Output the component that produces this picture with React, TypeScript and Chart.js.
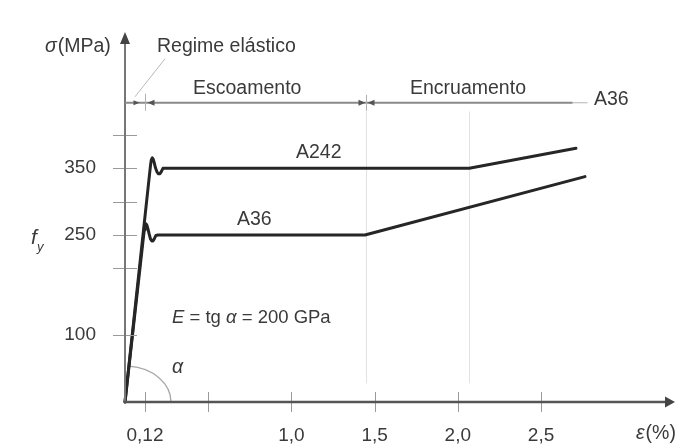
import React, { useEffect, useRef } from 'react';
import { Chart, registerables } from 'chart.js';

Chart.register(...registerables);

// ---- data (strain in %, stress in MPa) ----
const strainA242 = [0, 0.147, 0.153, 0.158, 0.164, 0.170, 0.176, 0.183, 0.192, 0.201, 0.210, 0.219, 0.228, 0.240, 2.069, 2.710];
const stressA242 = [0, 340, 353.6, 362.5, 365.5, 363.3, 358.1, 350.6, 344.6, 341.6, 341.6, 345.3, 349.8, 350, 350, 380];
const strainA36 = [0, 0.111, 0.116, 0.120, 0.126, 0.132, 0.138, 0.145, 0.153, 0.161, 0.169, 0.177, 0.186, 0.198, 1.442, 2.764];
const stressA36 = [0, 247.2, 257.7, 264.4, 266.7, 264.4, 259.2, 251.7, 244.2, 241.2, 241.2, 244.9, 249.4, 250, 250, 337.5];

const xTickValues = [0.12, 0.5, 1.0, 1.5, 2.0, 2.5];
const xTickLabels = ['0,12', '', '1,0', '1,5', '2,0', '2,5'];
const yTickValues = [100, 200, 250, 300, 350, 400];
const yTickLabels = ['100', '', '250', '', '350', ''];

// regime indicator: elastic | yielding | hardening
const regimeBounds = [0, 0.12, 1.45, 2.69];
const regimeTail = 2.78;
const regimeLevel = 448;
const guideStrains = [1.45, 2.07];
const guideTop = 435;
const guideBottom = 28;

const X_MIN = 0;
const X_MAX = 3.245;
const Y_MIN = 0;
const Y_MAX = 536;

const FONT = "'Liberation Sans', Arial, Helvetica, sans-serif";
const TEXT = '#3a3a3a';

type Part = { t: string; i?: boolean; s?: number; dy?: number; gap?: number };

function runs(ctx: CanvasRenderingContext2D, x: number, y: number, parts: Part[]) {
  ctx.textBaseline = 'middle';
  ctx.textAlign = 'left';
  ctx.fillStyle = TEXT;
  let cx = x;
  for (const p of parts) {
    ctx.font = `${p.i ? 'italic ' : ''}${p.s || 19.5}px ${FONT}`;
    ctx.fillText(p.t, cx, y + (p.dy || 0));
    cx += ctx.measureText(p.t).width + (p.gap || 0);
  }
}

function arrowHead(ctx: CanvasRenderingContext2D, tipX: number, tipY: number, dir: number, len: number, half: number, color: string) {
  ctx.fillStyle = color;
  ctx.beginPath();
  ctx.moveTo(tipX, tipY);
  ctx.lineTo(tipX - dir * len, tipY - half);
  ctx.lineTo(tipX - dir * len, tipY + half);
  ctx.closePath();
  ctx.fill();
}

const diagramPlugin = {
  id: 'diagram',
  beforeDatasetsDraw(chart: any) {
    const ctx: CanvasRenderingContext2D = chart.ctx;
    const xs = chart.scales.x;
    const ys = chart.scales.y;
    const X = (v: number) => xs.getPixelForValue(v);
    const Y = (v: number) => ys.getPixelForValue(v);
    ctx.save();
    // faint guide lines
    ctx.strokeStyle = '#e2e2e2';
    ctx.lineWidth = 1;
    for (const g of guideStrains) {
      ctx.beginPath();
      ctx.moveTo(Math.round(X(g)) + 0.5, Y(guideTop));
      ctx.lineTo(Math.round(X(g)) + 0.5, Y(guideBottom));
      ctx.stroke();
    }
    // alpha arc
    const ox = X(0);
    const oy = Y(0);
    ctx.strokeStyle = '#a8a8a8';
    ctx.lineWidth = 1.3;
    ctx.beginPath();
    ctx.ellipse(ox, oy, 46, 36, 0, (-85 * Math.PI) / 180, 0);
    ctx.stroke();
    ctx.restore();
  },
  afterDraw(chart: any) {
    const ctx: CanvasRenderingContext2D = chart.ctx;
    const xs = chart.scales.x;
    const ys = chart.scales.y;
    const area = chart.chartArea;
    const X = (v: number) => xs.getPixelForValue(v);
    const Y = (v: number) => ys.getPixelForValue(v);
    const ox = X(0);
    const oy = Y(0);
    ctx.save();

    // tick marks crossing the axes
    ctx.strokeStyle = '#9a9a9a';
    ctx.lineWidth = 1;
    for (const v of yTickValues) {
      const py = Math.round(Y(v)) + 0.5;
      ctx.beginPath();
      ctx.moveTo(ox - 12, py);
      ctx.lineTo(ox + 12, py);
      ctx.stroke();
    }
    for (const v of xTickValues) {
      const px = Math.round(X(v)) + 0.5;
      ctx.beginPath();
      ctx.moveTo(px, oy - 10);
      ctx.lineTo(px, oy + 10);
      ctx.stroke();
    }

    // y axis
    ctx.strokeStyle = '#777';
    ctx.lineWidth = 2;
    ctx.beginPath();
    ctx.moveTo(ox, oy + 1);
    ctx.lineTo(ox, area.top);
    ctx.stroke();
    ctx.fillStyle = '#444';
    ctx.beginPath();
    ctx.moveTo(ox, area.top - 12);
    ctx.lineTo(ox - 5, area.top);
    ctx.lineTo(ox + 5, area.top);
    ctx.closePath();
    ctx.fill();

    // x axis
    ctx.strokeStyle = '#555';
    ctx.lineWidth = 2.5;
    ctx.beginPath();
    ctx.moveTo(ox - 1, oy);
    ctx.lineTo(area.right, oy);
    ctx.stroke();
    arrowHead(ctx, area.right + 10, oy, 1, 10, 5.5, '#444');

    // regime indicator line
    const ry = Y(regimeLevel);
    ctx.strokeStyle = '#8a8a8a';
    ctx.lineWidth = 2;
    ctx.beginPath();
    ctx.moveTo(X(regimeBounds[0]), ry);
    ctx.lineTo(X(regimeBounds[3]), ry);
    ctx.stroke();
    ctx.strokeStyle = '#b5b5b5';
    ctx.lineWidth = 1;
    ctx.beginPath();
    ctx.moveTo(X(regimeBounds[3]), ry);
    ctx.lineTo(X(regimeTail), ry);
    ctx.stroke();
    // boundary ticks
    ctx.strokeStyle = '#b0b0b0';
    ctx.lineWidth = 1;
    const b1 = Math.round(X(regimeBounds[1])) + 0.5;
    const b2 = Math.round(X(regimeBounds[2])) + 0.5;
    ctx.beginPath();
    ctx.moveTo(b1, ry - 9);
    ctx.lineTo(b1, ry + 8);
    ctx.moveTo(b2, ry - 8);
    ctx.lineTo(b2, ry + 8);
    ctx.stroke();
    // arrowheads
    arrowHead(ctx, b1 - 6, ry, 1, 6, 2.5, '#555');
    arrowHead(ctx, b1 + 2, ry, -1, 7, 3, '#555');
    arrowHead(ctx, b2 - 1, ry, 1, 7, 3, '#555');
    arrowHead(ctx, b2 + 1, ry, -1, 7, 3, '#555');
    // leader line for "Regime elástico"
    ctx.strokeStyle = '#b8b8b8';
    ctx.lineWidth = 1;
    ctx.beginPath();
    ctx.moveTo(ox + 40, ry - 44);
    ctx.lineTo(ox + 10, ry - 6);
    ctx.stroke();

    // texts
    runs(ctx, 45, 47, [{ t: 'σ', i: true, gap: 1 }, { t: '(MPa)' }]);
    runs(ctx, 157, 47, [{ t: 'Regime elástico' }]);
    runs(ctx, 193, 89, [{ t: 'Escoamento' }]);
    runs(ctx, 410, 89, [{ t: 'Encruamento' }]);
    runs(ctx, 594, 100, [{ t: 'A36' }]);
    runs(ctx, 296, 153, [{ t: 'A242' }]);
    runs(ctx, 237, 220, [{ t: 'A36' }]);
    runs(ctx, 172, 318, [
      { t: 'E', i: true, s: 18.5 },
      { t: ' = tg ', s: 18.5 },
      { t: 'α', i: true, s: 18.5 },
      { t: ' = 200 GPa', s: 18.5 },
    ]);
    runs(ctx, 172, 368, [{ t: 'α', i: true }]);
    runs(ctx, 31, 238, [{ t: 'f', i: true, s: 21 }]);
    runs(ctx, 37, 247, [{ t: 'y', i: true, s: 13 }]);
    runs(ctx, 636, 434, [{ t: 'ε', i: true, gap: 1 }, { t: '(%)' }]);

    ctx.restore();
  },
};

export default function App() {
  const ref = useRef<HTMLCanvasElement | null>(null);

  useEffect(() => {
    if (!ref.current) return;
    const toPts = (xs: number[], ys: number[]) => xs.map((x, i) => ({ x, y: ys[i] }));
    const chart = new Chart(ref.current, {
      type: 'line',
      data: {
        datasets: [
          {
            label: 'A242',
            data: toPts(strainA242, stressA242),
            borderColor: '#262626',
            borderWidth: 3,
            pointRadius: 0,
            tension: 0,
            fill: false,
            borderJoinStyle: 'round',
            borderCapStyle: 'round',
            clip: false,
          } as any,
          {
            label: 'A36',
            data: toPts(strainA36, stressA36),
            borderColor: '#262626',
            borderWidth: 3,
            pointRadius: 0,
            tension: 0,
            fill: false,
            borderJoinStyle: 'round',
            borderCapStyle: 'round',
            clip: false,
          } as any,
        ],
      },
      options: {
        responsive: false,
        animation: false,
        layout: { padding: { top: 44, right: 18, left: 0, bottom: 0 } },
        plugins: { legend: { display: false }, tooltip: { enabled: false } },
        scales: {
          x: {
            type: 'linear',
            min: X_MIN,
            max: X_MAX,
            position: 'bottom',
            afterFit: (s: any) => {
              s.height = 44;
            },
            afterBuildTicks: (s: any) => {
              s.ticks = xTickValues.map((v) => ({ value: v }));
            },
            grid: { display: false },
            border: { display: false },
            ticks: {
              autoSkip: false,
              maxRotation: 0,
              padding: 14,
              color: TEXT,
              font: { family: FONT, size: 19 },
              callback: (_v: any, i: number) => xTickLabels[i],
            },
          },
          y: {
            type: 'linear',
            min: Y_MIN,
            max: Y_MAX,
            afterFit: (s: any) => {
              s.width = 125;
            },
            afterBuildTicks: (s: any) => {
              s.ticks = yTickValues.map((v) => ({ value: v }));
            },
            grid: { display: false },
            border: { display: false },
            ticks: {
              autoSkip: false,
              padding: 21,
              color: TEXT,
              font: { family: FONT, size: 19 },
              callback: (_v: any, i: number) => yTickLabels[i],
            },
          },
        },
      } as any,
      plugins: [diagramPlugin],
    });
    return () => chart.destroy();
  }, []);

  return (
    <div style={{ position: 'fixed', left: 0, top: 0, width: 683, height: 446, background: '#fff' }}>
      <canvas ref={ref} width={683} height={446} style={{ display: 'block' }} />
    </div>
  );
}
